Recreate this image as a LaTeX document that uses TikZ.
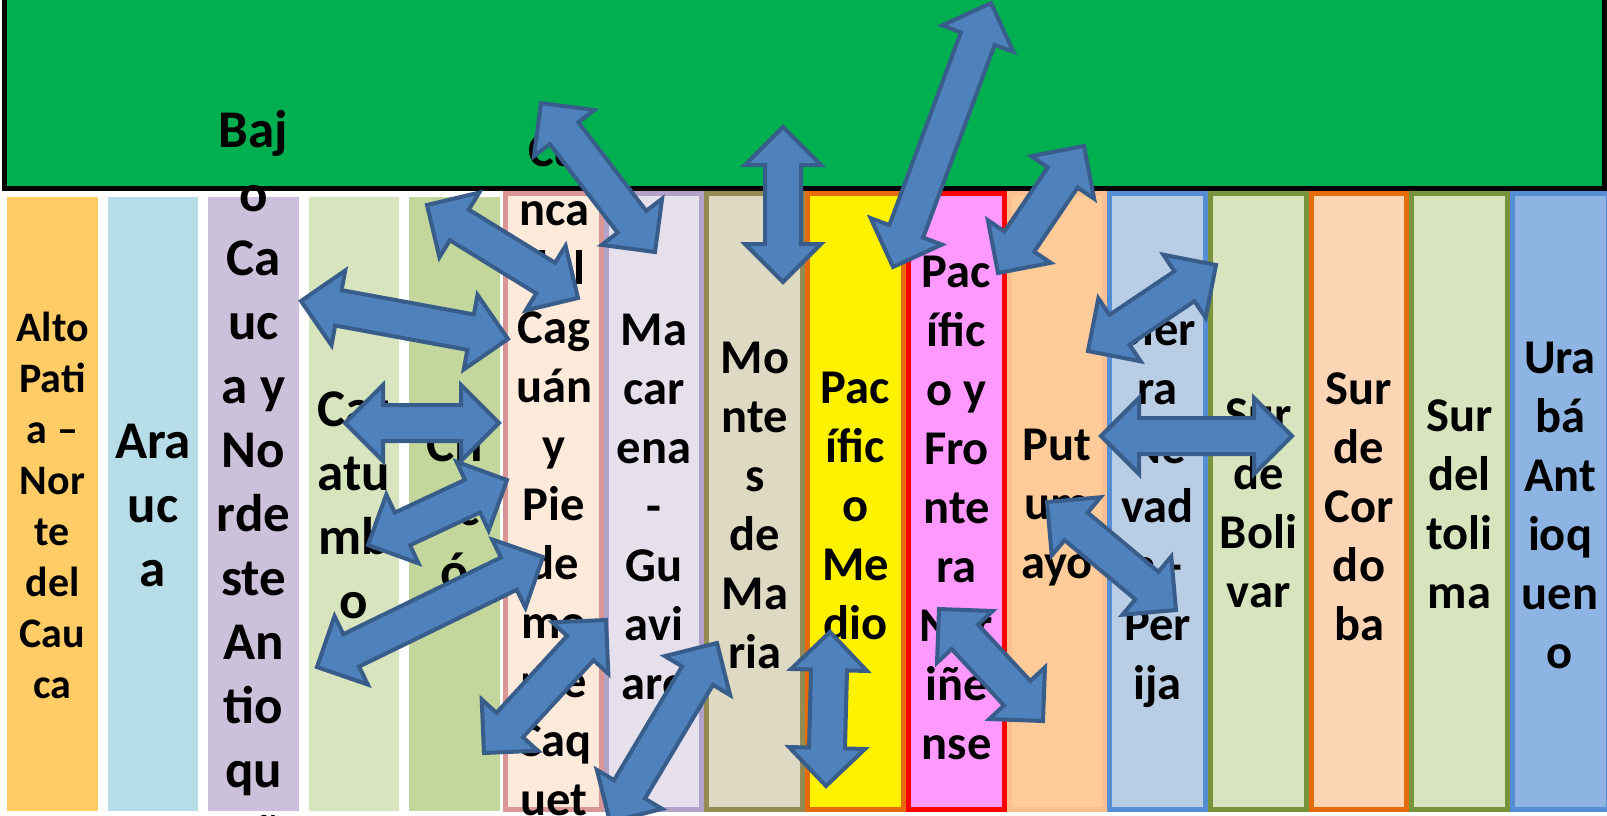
\documentclass[tikz,border=0pt]{standalone}
\usepackage{fontspec}
\setmainfont{Carlito}
\usetikzlibrary{calc}

\definecolor{bandgreen}{HTML}{00B050}
\definecolor{arrowfill}{HTML}{4F81BD}
\definecolor{arrowline}{HTML}{385D8A}
\definecolor{altofill}{HTML}{FFCC66}
\definecolor{araucafill}{HTML}{B7DDE8}
\definecolor{bajofill}{HTML}{CCC1DA}
\definecolor{catafill}{HTML}{D7E4BD}
\definecolor{chocofill}{HTML}{C3D69B}
\definecolor{cuencafill}{HTML}{FDEADA}
\definecolor{cuencaline}{HTML}{D99694}
\definecolor{macafill}{HTML}{E6E0EC}
\definecolor{macaline}{HTML}{B3A2C7}
\definecolor{montesfill}{HTML}{DDD9C3}
\definecolor{montesline}{HTML}{948A54}
\definecolor{medioline}{HTML}{E46C0A}
\definecolor{narifill}{HTML}{FF99FF}
\definecolor{putufill}{HTML}{FFCC99}
\definecolor{putuline}{HTML}{FAC090}
\definecolor{sierrafill}{HTML}{B9CDE5}
\definecolor{blueline}{HTML}{558ED5}
\definecolor{olivefill}{HTML}{D7E4BD}
\definecolor{oliveline}{HTML}{77933C}
\definecolor{cordfill}{HTML}{FCD5B5}
\definecolor{urabafill}{HTML}{8EB4E3}

% double block arrow between two points
\newcommand{\blockarrow}[3]{%
  \coordinate (#1-s) at #2;
  \coordinate (#1-e) at #3;
  \path let \p1=($(#1-e)-(#1-s)$) in
    \pgfextra{\pgfmathsetmacro{\arang}{atan2(\y1,\x1)}%
      \pgfmathsetmacro{\arlen}{veclen(\x1,\y1)}%
      \global\let\arang\arang \global\let\arlen\arlen};
  \begin{scope}[shift={(#1-s)}, rotate=\arang]
    \draw[barrow] (0,0) -- (38,38) -- (38,18) -- (\arlen-38,18) -- (\arlen-38,38)
      -- (\arlen,0) -- (\arlen-38,-38) -- (\arlen-38,-18) -- (38,-18) -- (38,-38) -- cycle;
  \end{scope}}

\begin{document}
\begin{tikzpicture}[x=1pt, y=-1pt,
    barrow/.style={fill=arrowfill, draw=arrowline, line width=4},
    colbox/.style={line width=5},
    lbl/.style={font=\bfseries\fontsize{48.5}{59}\selectfont, align=center, inner sep=0,
      execute at begin node=\strut, execute at end node=\strut},
    biglbl/.style={lbl, font=\bfseries\fontsize{53}{64}\selectfont},
    smalllbl/.style={lbl, font=\bfseries\fontsize{42}{51}\selectfont}]
  \useasboundingbox (0,0) rectangle (1607,815);

  % Draw green band
  \draw[line width=5, fill=bandgreen] (4.5,-10) rectangle (1604.5,188.5);

  % Draw columns
  \fill[altofill] (7,197) rectangle (98,811);
  \fill[araucafill] (108,197) rectangle (198,811);
  \fill[bajofill] (208,197) rectangle (299,811);
  \fill[catafill] (309,197) rectangle (399,811);
  \fill[chocofill] (409,197) rectangle (500,811);
  \draw[colbox, draw=cuencaline, fill=cuencafill] (505.5,193.5) rectangle (601.5,809.5);
  \draw[colbox, draw=macaline, fill=macafill] (606.5,193.5) rectangle (701.5,809.5);
  \draw[colbox, draw=montesline, fill=montesfill] (706.5,193.5) rectangle (802.5,809.5);
  \draw[colbox, draw=medioline, fill=yellow] (807.5,193.5) rectangle (903.5,809.5);
  \draw[colbox, draw=red, fill=narifill] (908.5,193.5) rectangle (1004.5,809.5);
  \draw[colbox, draw=putuline, fill=putufill] (1009.5,193.5) rectangle (1104.5,809.5);
  \draw[colbox, draw=blueline, fill=sierrafill] (1109.5,193.5) rectangle (1205.5,809.5);
  \draw[colbox, draw=oliveline, fill=olivefill] (1210.5,193.5) rectangle (1306.5,809.5);
  \draw[colbox, draw=medioline, fill=cordfill] (1311.5,193.5) rectangle (1406.5,809.5);
  \draw[colbox, draw=oliveline, fill=olivefill] (1411.5,193.5) rectangle (1507.5,809.5);
  \draw[colbox, draw=blueline, fill=urabafill] (1512.5,193.5) rectangle (1608.5,809.5);

  % Add labels
  \node[smalllbl] (alto) at (52.5,513) {Alto\\Pati\\a –\\Nor\\te\\del\\Cau\\ca};
  \node[biglbl] (arauca) at (153,515) {Ara\\uc\\a};
  \node[biglbl] (bajo) at (253.5,522) {Baj\\o\\Ca\\uc\\a y\\No\\rde\\ste\\An\\tio\\qu\\eñ\\o};
  \node[biglbl] (catatumbo) at (354,515) {Cat\\atu\\mb\\o};
  \node[biglbl] (choco) at (454.5,516) {Ch\\oc\\ó};
  \node[lbl] (cuenca) at (554,513) {Cu\\nca\\del\\Cag\\uán\\y\\Pie\\de\\mo\\nte\\Caq\\uet\\eño};
  \node[lbl] (macarena) at (654,516) {Ma\\car\\ena\\-\\Gu\\avi\\are};
  \node[lbl] (montes) at (755,514) {Mo\\nte\\s\\de\\Ma\\ria};
  \node[lbl] (medio) at (855.5,515) {Pac\\ífic\\o\\Me\\dio};
  \node[lbl] (narino) at (956.5,517) {Pac\\ífic\\o y\\Fro\\nte\\ra\\Nar\\iñe\\nse};
  \node[lbl] (putumayo) at (1057,513) {Put\\um\\ayo};
  \node[lbl] (sierra) at (1157.5,514) {Sier\\ra\\Ne\\vad\\a -\\Per\\ija};
  \node[lbl] (bolivar) at (1258.5,512) {Sur\\de\\Boli\\var};
  \node[lbl] (cordoba) at (1359,515) {Sur\\de\\Cor\\do\\ba};
  \node[lbl] (tolima) at (1459.5,513) {Sur\\del\\toli\\ma};
  \node[lbl] (uraba) at (1560,514) {Ura\\bá\\Ant\\ioq\\uen\\o};

  % Draw arrows
  \blockarrow{a1}{(301,301)}{(508,339)}
  \blockarrow{a2}{(427,205)}{(578,298)}
  \blockarrow{a3}{(541,103)}{(655,252)}
  \blockarrow{a4}{(783,127)}{(783,282)}
  \blockarrow{a5}{(991,3)}{(893,267)}
  \blockarrow{a6}{(1084,146)}{(998,273)}
  \blockarrow{a7}{(1216,265)}{(1088,351)}
  \blockarrow{a8}{(345,423)}{(499,423)}
  \blockarrow{a9}{(368,545)}{(507,480)}
  \blockarrow{a10}{(317,667)}{(543,557)}
  \blockarrow{a11}{(484,753)}{(606,620)}
  \blockarrow{a12}{(610,822)}{(717,643)}
  \blockarrow{a13}{(830,632)}{(826,786)}
  \blockarrow{a14}{(939,609)}{(1043,721)}
  \blockarrow{a15}{(1101,436)}{(1292,436)}
  \blockarrow{a16}{(1047,502)}{(1176,610)}
\end{tikzpicture}
\end{document}
